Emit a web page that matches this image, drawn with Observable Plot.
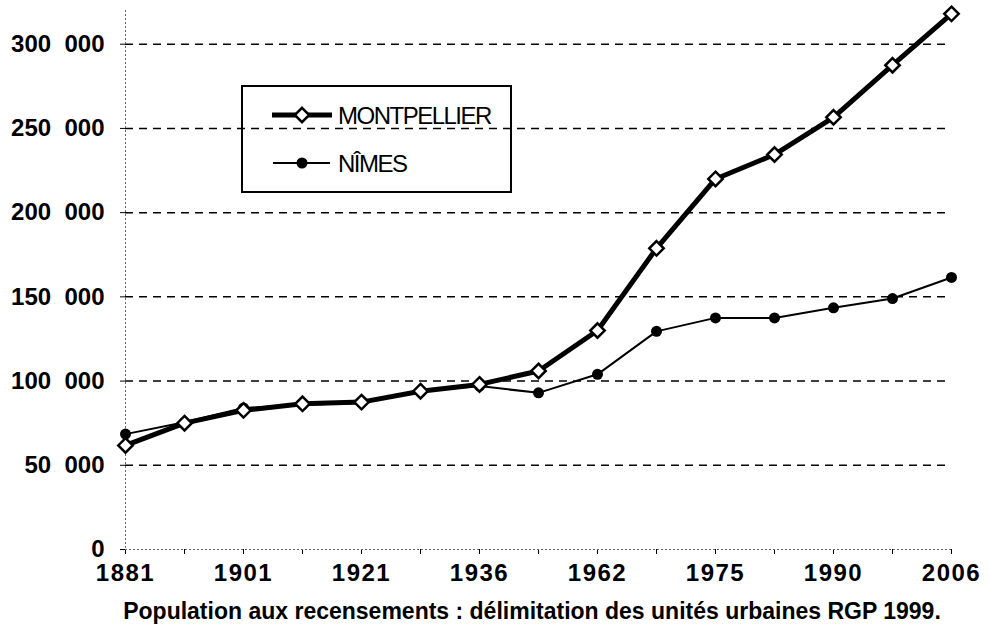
<!DOCTYPE html>
<html>
<head>
<meta charset="utf-8">
<script src="https://cdn.jsdelivr.net/npm/d3@7"></script>
<script src="https://cdn.jsdelivr.net/npm/@observablehq/plot@0.6"></script>
<style>
  html, body { margin: 0; padding: 0; background: #fff; }
  #wrap { position: relative; width: 989px; height: 641px; font-family: "Liberation Sans", Arial, sans-serif; }
  #legend { position: absolute; left: 241px; top: 85px; width: 271px; height: 108px; border: 2px solid #000; box-sizing: border-box; }
  #legend svg { display: block; }
  #caption { position: absolute; left: 0; top: 598px; width: 1064px; text-align: center; font-weight: bold; font-size: 23px; color: #000; white-space: nowrap; }
  #chart svg g[aria-label="y-axis tick label"] text, #chart svg g[aria-label="y-axis"] text { font-size: 24px; }
  #chart svg g[aria-label="x-axis tick label"] text, #chart svg g[aria-label="x-axis"] text { font-size: 24px; letter-spacing: 1.5px; }
</style>
</head>
<body>
<div id="wrap">
  <div id="chart"></div>
  <div id="legend"></div>
  <div id="caption">Population aux recensements : délimitation des unités urbaines RGP 1999.</div>
</div>
<script>
const years = ["1881","1891","1901","1911","1921","1931","1936","1954","1962","1968","1975","1982","1990","1999","2006"];
const xLabels = ["1881","1901","1921","1936","1962","1975","1990","2006"];
const montpellier = [61800,75000,82600,86500,87500,94000,98000,106000,130000,178800,220000,234500,256600,287500,318000];
const nimes = [68500,75500,84000,86000,87000,94000,97000,93000,104000,129500,137500,137500,143500,149000,161500];
const yTicks = [0,50000,100000,150000,200000,250000,300000];
const seriesNames = ["MONTPELLIER","NÎMES"];

const mData = years.map((y, i) => ({year: y, value: montpellier[i]}));
const nData = years.map((y, i) => ({year: y, value: nimes[i]}));

const chart = Plot.plot({
  width: 989,
  height: 590,
  marginLeft: 125,
  marginRight: 38,
  marginTop: 10,
  marginBottom: 41,
  style: {fontFamily: "'Liberation Sans', Arial, sans-serif", fontSize: "24px", fontWeight: "bold", color: "#000", background: "#fff", overflow: "visible"},
  x: {type: "point", domain: years, padding: 0, ticks: years, tickSize: 5, tickPadding: 9,
      tickFormat: d => xLabels.includes(d) ? d : "", label: null},
  y: {domain: [0, 320000], ticks: yTicks, tickSize: 5, tickPadding: 16,
      tickFormat: d => d === 0 ? "0" : `${d / 1000}\u00a0\u00a0000`, label: null},
  marks: [
    Plot.ruleY(yTicks.filter(d => d > 0), {stroke: "#000", strokeWidth: 1.5, strokeDasharray: "8,6"}),
    Plot.ruleX([years[0]], {stroke: "#666", strokeDasharray: "2,2"}),
    Plot.ruleY([0], {stroke: "#666", strokeDasharray: "2,2"}),
    Plot.line(nData, {x: "year", y: "value", stroke: "#000", strokeWidth: 2}),
    Plot.line(mData, {x: "year", y: "value", stroke: "#000", strokeWidth: 5}),
    Plot.dot(nData, {x: "year", y: "value", r: 5.5, fill: "#000"}),
    Plot.dot(mData, {x: "year", y: "value", symbol: "diamond2", r: 6.5, fill: "#fff", stroke: "#000", strokeWidth: 2.5})
  ]
});
document.getElementById("chart").appendChild(chart);

// legend
const lg = d3.select("#legend").append("svg").attr("width", 267).attr("height", 104);
const items = [
  {name: seriesNames[0], y: 28, sw: 5, x1: 29, x2: 89},
  {name: seriesNames[1], y: 76, sw: 2, x1: 30, x2: 87}
];
items.forEach((it, i) => {
  lg.append("line").attr("x1", it.x1).attr("x2", it.x2).attr("y1", it.y).attr("y2", it.y)
    .attr("stroke", "#000").attr("stroke-width", it.sw);
  if (i === 0) {
    lg.append("path").attr("d", d3.symbol(d3.symbolDiamond2, Math.PI * 6.5 * 6.5)())
      .attr("transform", `translate(59,${it.y})`).attr("fill", "#fff").attr("stroke", "#000").attr("stroke-width", 2.5);
  } else {
    lg.append("circle").attr("cx", 59).attr("cy", it.y).attr("r", 5.5).attr("fill", "#000");
  }
  lg.append("text").attr("x", 95).attr("y", it.y).attr("dy", "0.36em")
    .attr("font-family", "'Liberation Sans', Arial, sans-serif").attr("font-size", 24)
    .attr("letter-spacing", "-1.5px").text(it.name);
});
</script>
</body>
</html>
